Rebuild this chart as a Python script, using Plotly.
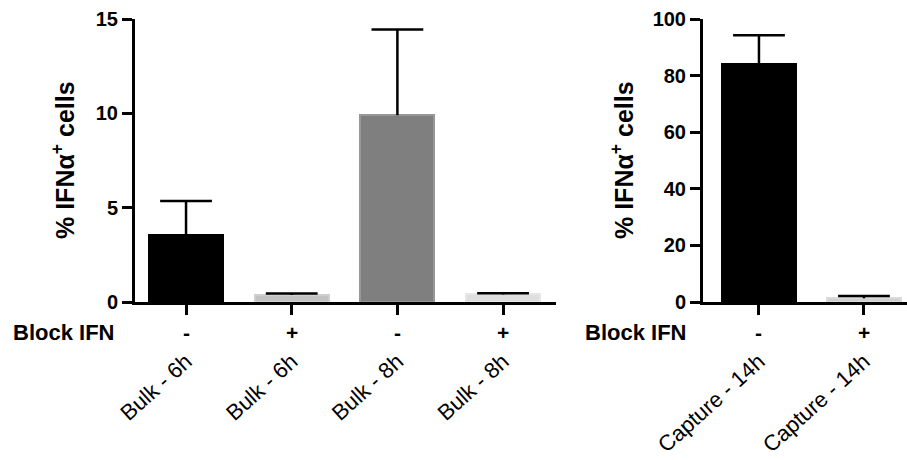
import plotly.graph_objects as go

# ---- data ----
left_labels = ["Bulk - 6h", "Bulk - 6h", "Bulk - 8h", "Bulk - 8h"]
left_block = ["-", "+", "-", "+"]
left_values = [3.55, 0.37, 9.9, 0.4]
left_errors = [1.8, 0.08, 4.55, 0.06]
left_colors = ["#000000", "#c2c2c2", "#7f7f7f", "#dedede"]
left_edges = ["#000000", "#cfcfcf", "#979797", "#e6e6e6"]

right_labels = ["Capture - 14h", "Capture - 14h"]
right_block = ["-", "+"]
right_values = [84.2, 1.3]
right_errors = [10.1, 0.8]
right_colors = ["#000000", "#d0d0d0"]
right_edges = ["#000000", "#dadada"]

left_yticks = [0, 5, 10, 15]
right_yticks = [0, 20, 40, 60, 80, 100]

FONT = "Liberation Sans, Arial, sans-serif"
W, H = 907, 460

fig = go.Figure()


def add_group(values, errors, colors, edges, width, xa, ya):
    xs = list(range(len(values)))
    # bars with upward error stems (no caps)
    fig.add_trace(go.Bar(
        x=xs, y=values, width=width,
        marker=dict(color=colors, line=dict(width=2, color=edges)),
        error_y=dict(type="data", array=errors, arrayminus=[0] * len(errors),
                     symmetric=False, color="black", thickness=2.5, width=0),
        xaxis=xa, yaxis=ya, showlegend=False, hoverinfo="skip",
    ))
    # caps at the top of the error stems
    fig.add_trace(go.Scatter(
        x=xs, y=[v + e for v, e in zip(values, errors)], mode="markers",
        marker=dict(symbol="line-ew", size=37, color="black",
                    line=dict(width=2.5, color="black")),
        xaxis=xa, yaxis=ya, showlegend=False, hoverinfo="skip", cliponaxis=False,
    ))


add_group(left_values, left_errors, left_colors, left_edges, 0.7, "x", "y")
add_group(right_values, right_errors, right_colors, right_edges, 0.705, "x2", "y2")

ydom = [1 - 302 / H, 1 - 19 / H]
common_x = dict(showline=True, linecolor="black", linewidth=3, ticks="outside",
                ticklen=10, tickwidth=3, tickcolor="black", tickangle=-42,
                ticklabelstandoff=25, showgrid=False, zeroline=False, automargin=False,
                tickfont=dict(family=FONT, size=22, color="black"))
common_y = dict(showline=True, linecolor="black", linewidth=3, ticks="outside",
                ticklen=10, tickwidth=3, tickcolor="black", showgrid=False,
                zeroline=False, automargin=False,
                tickfont=dict(family=FONT, size=20, color="black"))

fig.update_layout(
    width=W, height=H,
    margin=dict(l=0, r=0, t=0, b=0, autoexpand=False),
    paper_bgcolor="white", plot_bgcolor="white",
    font=dict(family=FONT, color="black"),
    bargap=0,
    xaxis=dict(domain=[135 / W, 556 / W], range=[-0.483, 3.501],
               tickvals=list(range(len(left_labels))), ticktext=left_labels, **common_x),
    yaxis=dict(domain=ydom, range=[0, 15], tickvals=left_yticks,
               ticktext=[f"<b>{v}</b>" for v in left_yticks], **common_y),
    xaxis2=dict(domain=[703 / W, 1.0], range=[-0.533, 1.41], anchor="y2",
                tickvals=list(range(len(right_labels))), ticktext=right_labels, **common_x),
    yaxis2=dict(domain=ydom, range=[0, 100], anchor="x2", tickvals=right_yticks,
                ticktext=[f"<b>{v}</b>" for v in right_yticks], **common_y),
)

annotations = []
row_y = 1 - 332 / H
# Block IFN labels
for xp in [11 / W, 583 / W]:
    annotations.append(dict(text="<b>Block IFN</b>", xref="paper", yref="paper",
                            x=xp, y=row_y, xanchor="left", yanchor="middle",
                            showarrow=False, font=dict(family=FONT, size=22)))
for i, s in enumerate(left_block):
    annotations.append(dict(text=f"<b>{s}</b>", xref="x", yref="paper", x=i, y=row_y,
                            xanchor="center", yanchor="middle", showarrow=False,
                            font=dict(family=FONT, size=21)))
for i, s in enumerate(right_block):
    annotations.append(dict(text=f"<b>{s}</b>", xref="x2", yref="paper", x=i, y=row_y,
                            xanchor="center", yanchor="middle", showarrow=False,
                            font=dict(family=FONT, size=21)))
# y titles
for xp in [63 / W, 622 / W]:
    annotations.append(dict(text="<b>% IFNα<sup>+</sup> cells</b>", xref="paper", yref="paper",
                            x=xp, y=1 - 160 / H, xanchor="center", yanchor="middle",
                            textangle=-90, showarrow=False,
                            font=dict(family=FONT, size=25)))
fig.update_layout(annotations=annotations)

fig.write_html("out.html", config={"displayModeBar": False},
               post_script="document.body.style.margin='0';document.body.style.overflow='hidden';")
